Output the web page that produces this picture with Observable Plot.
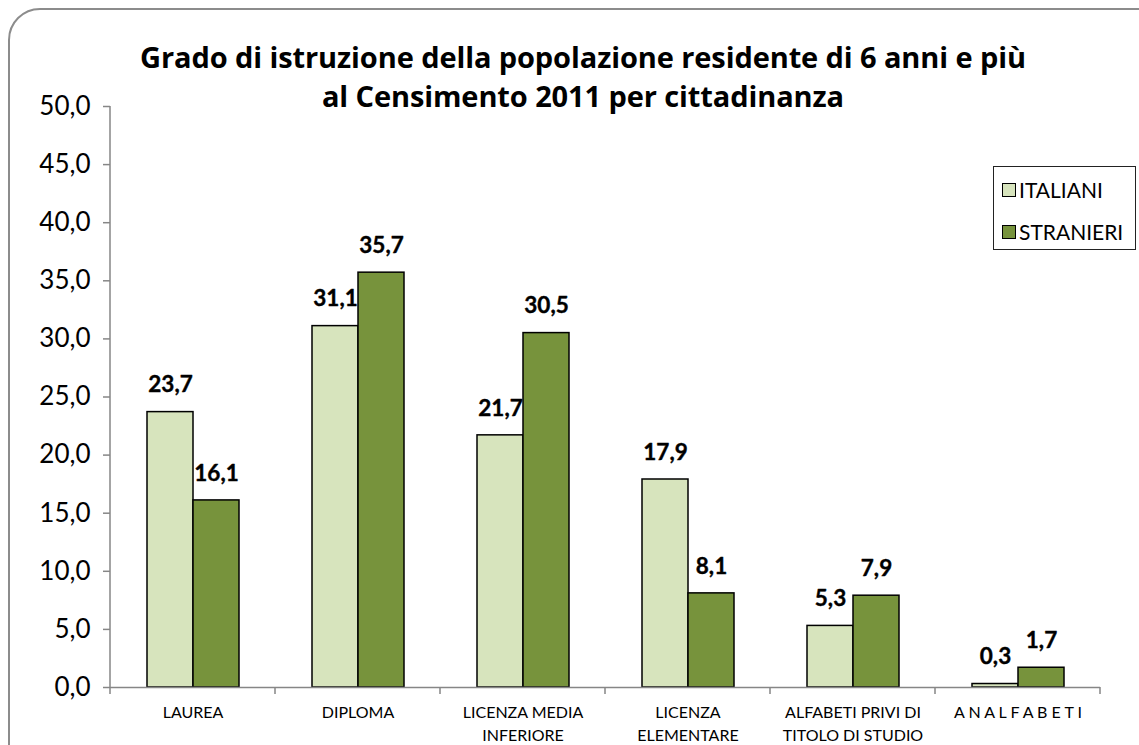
<!DOCTYPE html>
<html>
<head>
<meta charset="utf-8">
<script src="https://cdn.jsdelivr.net/npm/d3@7"></script>
<script src="https://cdn.jsdelivr.net/npm/@observablehq/plot@0.6"></script>
<style>
  html, body { margin: 0; padding: 0; background: #fff; }
  body { width: 1139px; height: 745px; position: relative; overflow: hidden; font-family: Lato, sans-serif; }
  #frame { position: absolute; left: 8px; top: 8px; width: 1200px; height: 800px; border: 2px solid #8c8c8c; border-radius: 32px; box-sizing: border-box; }
  #chart { position: absolute; left: 0; top: 0; }
  #title { position: absolute; left: 0; width: 1166px; top: 37px; text-align: center; font-family: "Open Sans", sans-serif; font-weight: bold; font-size: 29px; line-height: 39px; color: #000; letter-spacing: -0.1px; }
  #legend { position: absolute; left: 993px; top: 166px; width: 143px; height: 84px; border: 1.5px solid #222; box-sizing: border-box; background: #fff; }
  .item { position: absolute; left: 8px; display: flex; align-items: center; font-size: 21px; color: #000; }
  .sw { width: 12px; height: 12px; border: 1.5px solid #000; margin-right: 3px; }
</style>
</head>
<body>
<div id="frame"></div>
<div id="chart"></div>
<div id="title">Grado di istruzione della popolazione residente di 6 anni e più<br>al Censimento 2011 per cittadinanza</div>
<div id="legend"></div>
<script>
const categories = ["LAUREA", "DIPLOMA", "LICENZA MEDIA\nINFERIORE", "LICENZA\nELEMENTARE", "ALFABETI PRIVI DI\nTITOLO DI STUDIO", "A N A L F A B E T I"];
const series = ["ITALIANI", "STRANIERI"];
const italiani = [23.7, 31.1, 21.7, 17.9, 5.3, 0.3];
const stranieri = [16.1, 35.7, 30.5, 8.1, 7.9, 1.7];
const yTicks = [0, 5, 10, 15, 20, 25, 30, 35, 40, 45, 50];
const colors = ["#d7e4bd", "#77933c"];

const data = [];
categories.forEach((c, i) => {
  data.push({cat: c, series: series[0], value: italiani[i]});
  data.push({cat: c, series: series[1], value: stranieri[i]});
});
const fmt = d => d.toFixed(1).replace(".", ",");

const chart = Plot.plot({
  width: 1139,
  height: 745,
  marginLeft: 108,
  marginRight: 37,
  marginTop: 106,
  marginBottom: 58,
  style: {fontFamily: "Lato, sans-serif", background: "transparent", color: "#000"},
  fx: {domain: categories, padding: 0, label: null},
  x: {domain: series, paddingInner: 0, paddingOuter: 0.76, axis: null},
  y: {domain: [0, 50], label: null},
  color: {domain: series, range: colors},
  marks: [
    Plot.axisY({ticks: yTicks, tickFormat: fmt, tickSize: 7, stroke: "#868686", strokeWidth: 1.5, fontSize: 26, tickPadding: 13, label: null}),
    Plot.axisFx({anchor: "bottom", tickSize: 0, fontSize: 16, tickPadding: 14, lineHeight: 1.45, label: null}),
    Plot.barY(data, {fx: "cat", x: "series", y: "value", fill: "series", stroke: "#000", strokeWidth: 1.5}),
    Plot.ruleY([0], {stroke: "#868686", strokeWidth: 1.5}),
    Plot.text(data, {fx: "cat", x: "series", y: "value", text: d => fmt(d.value), dy: -27, fontWeight: "bold", fontSize: 22.5, fill: "#000", stroke: "#000", strokeWidth: 0.4})
  ]
});
document.getElementById("chart").appendChild(chart);

// axis line and category boundary ticks from the plot's own scales
const fxS = chart.scale("fx");
const yS = chart.scale("y");
const svg = d3.select(chart);
const y0 = yS.apply(0), y50 = yS.apply(50);
const x0 = fxS.apply(categories[0]);
svg.append("line").attr("x1", x0).attr("x2", x0).attr("y1", y0).attr("y2", y50)
  .attr("stroke", "#868686").attr("stroke-width", 1.5);
const bounds = categories.map(c => fxS.apply(c)).concat([fxS.apply(categories[categories.length - 1]) + fxS.bandwidth]);
bounds.forEach(b => {
  svg.append("line").attr("x1", b).attr("x2", b).attr("y1", y0).attr("y2", y0 + 7)
    .attr("stroke", "#868686").attr("stroke-width", 1.5);
});

// legend
const legend = document.getElementById("legend");
series.forEach((s, i) => {
  const it = document.createElement("div");
  it.className = "item";
  it.style.top = (10 + i * 42) + "px";
  it.innerHTML = `<span class="sw" style="background:${colors[i]}"></span><span>${s}</span>`;
  legend.appendChild(it);
});
</script>
</body>
</html>
